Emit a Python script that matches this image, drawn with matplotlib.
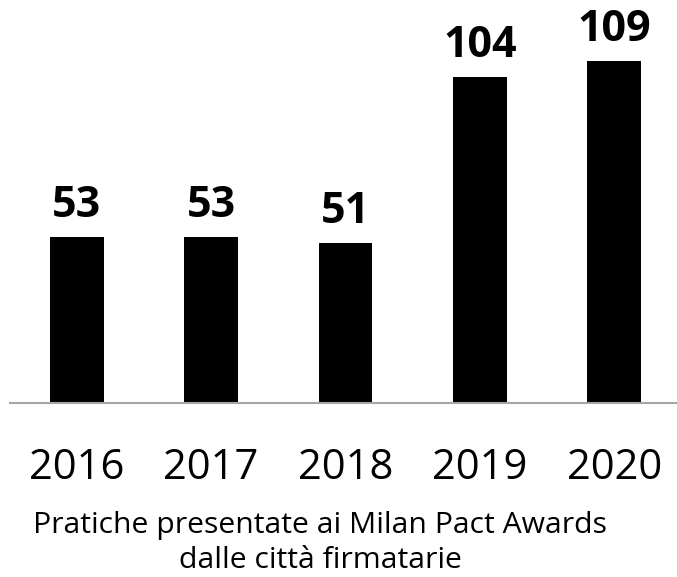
import matplotlib.pyplot as plt

years = ['2016', '2017', '2018', '2019', '2020']
practices = [53, 53, 51, 104, 109]
caption = 'Pratiche presentate ai Milan Pact Awards\ndalle città firmatarie'

plt.rcParams['font.family'] = ['Open Sans', 'DejaVu Sans']

fig = plt.figure(figsize=(6.77, 5.77), dpi=100)
ax = fig.add_axes([10 / 677, 174 / 577, 667 / 677, 403 / 577])

x = range(len(years))
bars = ax.bar(x, practices, width=0.40, color='black')
ax.bar_label(bars, padding=7, fontsize=31, fontweight='bold')

ax.set_xlim(-0.496, 4.466)
ax.set_ylim(0, 128.5)
ax.set_xticks(list(x), years, fontsize=30)
ax.tick_params(axis='x', length=0, pad=32)
ax.set_yticks([])

for side in ['top', 'right', 'left']:
    ax.spines[side].set_visible(False)
ax.spines['bottom'].set_color('#a6a6a6')
ax.spines['bottom'].set_linewidth(1.5)

fig.text(320 / 677, 1 - 543 / 577, caption, ha='center', va='center',
         fontsize=21.7, linespacing=1.28)

fig.savefig('out.png', dpi=100)
